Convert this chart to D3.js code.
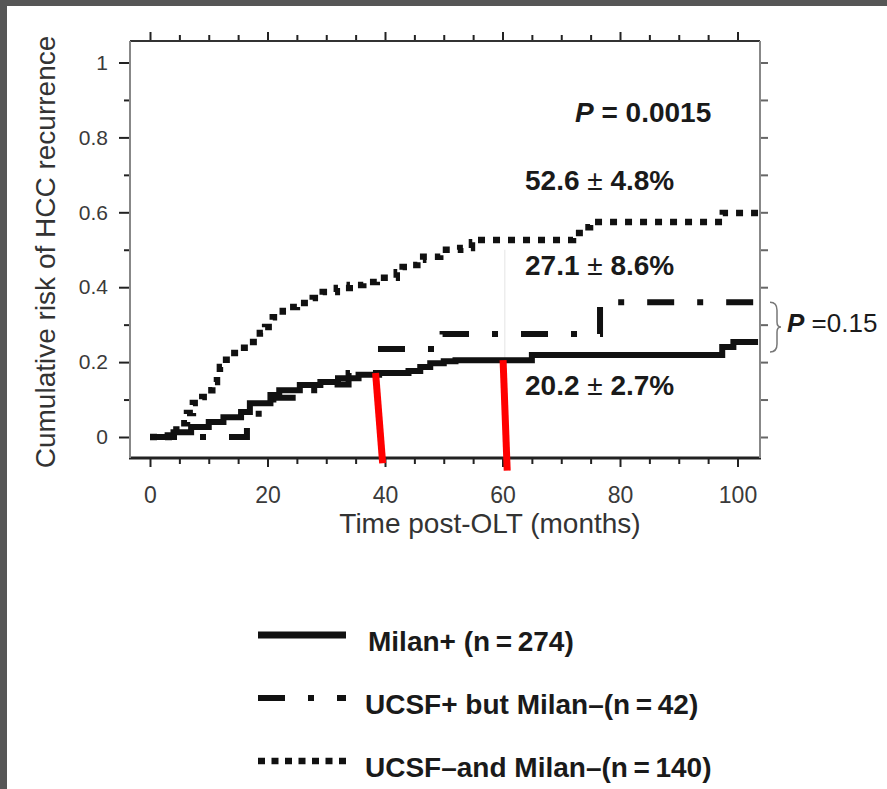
<!DOCTYPE html>
<html><head><meta charset="utf-8">
<script src="https://cdn.jsdelivr.net/npm/d3@7"></script>
<style>body{margin:0;background:#565656;} svg{display:block}</style>
</head><body><svg id="c" width="887" height="789"></svg>
<script>
// ---- data ----
const xTickValues = [0, 20, 40, 60, 80, 100];
const yTickValues = [0, 0.2, 0.4, 0.6, 0.8, 1];
const yTickLabels = ["0", "0.2", "0.4", "0.6", "0.8", "1"];
// months, cumulative risk (Kaplan-Meier step curves)
const milanPlus = [[0,0],[3,0.005],[4,0.013],[7,0.027],[10,0.04],[12.5,0.053],[15.5,0.067],[17,0.09],[20.5,0.112],[22,0.125],[25.5,0.139],[29,0.147],[32,0.157],[35.5,0.166],[39,0.171],[44,0.176],[46,0.187],[47.7,0.197],[50,0.202],[52,0.205],[65,0.219],[97.4,0.24],[99.3,0.254],[103.5,0.254]];
const ucsfPlusMilanMinus = [[0,0],[16.5,0.032],[18.5,0.075],[21,0.105],[26,0.125],[29.5,0.14],[33.8,0.171],[38.6,0.235],[49.8,0.275],[76.6,0.36],[103.5,0.36]];
const ucsfMinusMilanMinus = [[0,0],[4.5,0.02],[5.1,0.037],[6.3,0.064],[7.3,0.091],[8.9,0.107],[9.7,0.125],[10.6,0.147],[11.4,0.166],[11.9,0.187],[12.4,0.206],[13.6,0.224],[15.3,0.238],[17,0.254],[18.7,0.278],[19.6,0.294],[20.9,0.32],[22.6,0.347],[25,0.358],[27.7,0.371],[29.4,0.387],[31.8,0.398],[34,0.406],[36.3,0.414],[38.6,0.425],[42,0.44],[43,0.454],[44.3,0.459],[45.5,0.473],[46.5,0.481],[49.4,0.5],[52.8,0.505],[54.8,0.52],[55.6,0.526],[72,0.545],[73.7,0.56],[74.9,0.574],[97.5,0.598],[103.5,0.598]];
const seriesNames = ["Milan+ (n\u2009=\u2009274)", "UCSF+ but Milan\u2013(n\u2009=\u200942)", "UCSF\u2013and Milan\u2013(n\u2009=\u2009140)"];
const fiveYearLabels = [["52.6", "4.8%"], ["27.1", "8.6%"], ["20.2", "2.7%"]];
const fiveYearLabelY = [0.6585, 0.4327, 0.1122];
const redMarks = [[38.4, 0.171, 39.6, -0.07], [60.1, 0.205, 60.8, -0.09]];

// ---- layout ----
const FONT = "'Liberation Sans', Arial, Helvetica, sans-serif";
const svg = d3.select("#c");
svg.append("rect").attr("width", 887).attr("height", 789).attr("fill", "#565656");
svg.append("rect").attr("x", 7).attr("y", 6).attr("width", 880).attr("height", 783).attr("fill", "#fff");

const x = d3.scaleLinear().domain([0, 100]).range([150, 737.5]);
const y = d3.scaleLinear().domain([0, 1]).range([437, 62.5]);
const L = 130, R = 760, T = 41, B = 458;

// faint guide line
svg.append("line").attr("x1", x(60.4)).attr("x2", x(60.4)).attr("y1", y(0.5)).attr("y2", y(0.21))
  .attr("stroke", "#e4e4e4").attr("stroke-width", 1);

// axes
function styleAxis(g, majorTest, majorLen, minorLen, sign, horiz) {
  g.select(".domain").remove();
  g.selectAll(".tick line").each(function(d) {
    const len = (majorTest(d) ? majorLen : minorLen) * sign;
    d3.select(this).attr(horiz ? "y2" : "x2", len).attr("stroke", "#222").attr("stroke-width", 2);
  });
  g.selectAll(".tick text").attr("fill", "#3a3a3a").attr("font-family", FONT);
}
const isMajX = d => Math.abs(d % 20) < 1e-6;
const isMajY = d => Math.abs(Math.round(d * 10) % 2) === 0;
const xMinor = d3.range(0, 101, 5);
const yMinor = d3.range(0, 11).map(i => i / 10);

const gB = svg.append("g").attr("transform", `translate(0,${B})`)
  .call(d3.axisBottom(x).tickValues(xMinor).tickSize(8).tickPadding(21)
    .tickFormat(d => xTickValues.includes(d) ? d : ""));
styleAxis(gB, isMajX, 9, 6, 1, true);
gB.selectAll(".tick text").attr("font-size", 23);

const gT = svg.append("g").attr("transform", `translate(0,${T})`)
  .call(d3.axisTop(x).tickValues(xMinor).tickFormat(""));
styleAxis(gT, isMajX, 9, 6, -1, true);

const gL = svg.append("g").attr("transform", `translate(${L},0)`)
  .call(d3.axisLeft(y).tickValues(yMinor).tickSize(10).tickPadding(12)
    .tickFormat(d => { const i = yTickValues.findIndex(v => Math.abs(v - d) < 1e-6); return i >= 0 ? yTickLabels[i] : ""; }));
styleAxis(gL, isMajY, 11, 6, -1, false);
gL.selectAll(".tick text").attr("font-size", 21);

const gR = svg.append("g").attr("transform", `translate(${R},0)`)
  .call(d3.axisRight(y).tickValues(yMinor).tickFormat(""));
styleAxis(gR, () => true, 8, 8, 1, false);
gR.selectAll(".tick line").attr("stroke", "#666");

// frame
svg.append("line").attr("x1", L).attr("x2", R).attr("y1", T).attr("y2", T).attr("stroke", "#333").attr("stroke-width", 2);
svg.append("line").attr("x1", L - 1).attr("x2", R + 1).attr("y1", B).attr("y2", B).attr("stroke", "#222").attr("stroke-width", 3);
svg.append("line").attr("x1", L).attr("x2", L).attr("y1", T).attr("y2", B).attr("stroke", "#888").attr("stroke-width", 2);
svg.append("line").attr("x1", R).attr("x2", R).attr("y1", T).attr("y2", B).attr("stroke", "#888").attr("stroke-width", 2);

// axis titles
svg.append("text").attr("x", 490).attr("y", 533).attr("text-anchor", "middle")
  .attr("font-family", FONT).attr("font-size", 28).attr("fill", "#333").text("Time post-OLT (months)");
svg.append("text").attr("transform", "translate(55,252) rotate(-90)").attr("text-anchor", "middle")
  .attr("font-family", FONT).attr("font-size", 28).attr("fill", "#333").text("Cumulative risk of HCC recurrence");

// curves
const line = d3.line().x(d => x(d[0])).y(d => y(d[1])).curve(d3.curveStepAfter);
svg.append("path").datum(ucsfMinusMilanMinus).attr("d", line).attr("fill", "none")
  .attr("stroke", "#111").attr("stroke-width", 6.5).attr("stroke-dasharray", "7,8");
svg.append("path").datum(ucsfPlusMilanMinus).attr("d", line).attr("fill", "none")
  .attr("stroke", "#111").attr("stroke-width", 6).attr("stroke-dasharray", "27,23,6,23");
svg.append("path").datum(milanPlus).attr("d", line).attr("fill", "none")
  .attr("stroke", "#111").attr("stroke-width", 6);

// red marks
svg.selectAll("line.red").data(redMarks).join("line").attr("class", "red")
  .attr("x1", d => x(d[0])).attr("y1", d => y(d[1])).attr("x2", d => x(d[2])).attr("y2", d => y(d[3]))
  .attr("stroke", "#ff0000").attr("stroke-width", 7);

// 5-year labels
fiveYearLabels.forEach((lab, i) => {
  const t = svg.append("text").attr("x", 525).attr("y", y(fiveYearLabelY[i]))
    .attr("font-family", FONT).attr("font-size", 28).attr("font-weight", "bold").attr("fill", "#1a1a1a");
  t.append("tspan").text(lab[0] + " ");
  t.append("tspan").attr("font-weight", "normal").text("\u00b1");
  t.append("tspan").text(" " + lab[1]);
});

// P values
const p1 = svg.append("text").attr("x", 575).attr("y", 122).attr("font-family", FONT)
  .attr("font-size", 28).attr("font-weight", "bold").attr("fill", "#1a1a1a");
p1.append("tspan").attr("font-style", "italic").text("P");
p1.append("tspan").text(" = 0.0015");

const p2 = svg.append("text").attr("x", 787).attr("y", 332).attr("font-family", FONT)
  .attr("font-size", 26).attr("fill", "#1a1a1a");
p2.append("tspan").attr("font-style", "italic").attr("font-weight", "bold").text("P");
p2.append("tspan").text(" =0.15");

// bracket
const b0 = y(0.36), b1 = y(0.227), bm = (b0 + b1) / 2;
svg.append("path").attr("fill", "none").attr("stroke", "#777").attr("stroke-width", 1.5)
  .attr("d", `M770,${b0} Q777,${b0} 777,${b0 + 8} L777,${bm - 5} Q777,${bm} 781,${bm} Q777,${bm} 777,${bm + 5} L777,${b1 - 8} Q777,${b1} 770,${b1}`);

// legend
const legY = [635, 698, 761];
const legDash = [null, "27,23,6,23", "7,6.5"];
const legW = [7, 6, 6.5];
seriesNames.forEach((name, i) => {
  const ln = svg.append("line").attr("x1", 258).attr("x2", 346).attr("y1", legY[i]).attr("y2", legY[i])
    .attr("stroke", "#111").attr("stroke-width", legW[i]);
  if (legDash[i]) ln.attr("stroke-dasharray", legDash[i]);
  svg.append("text").attr("x", i === 0 ? 368 : 365).attr("y", legY[i] + 16)
    .attr("font-family", FONT).attr("font-size", 28).attr("font-weight", "bold").attr("fill", "#1a1a1a").text(name);
});
</script></body></html>
